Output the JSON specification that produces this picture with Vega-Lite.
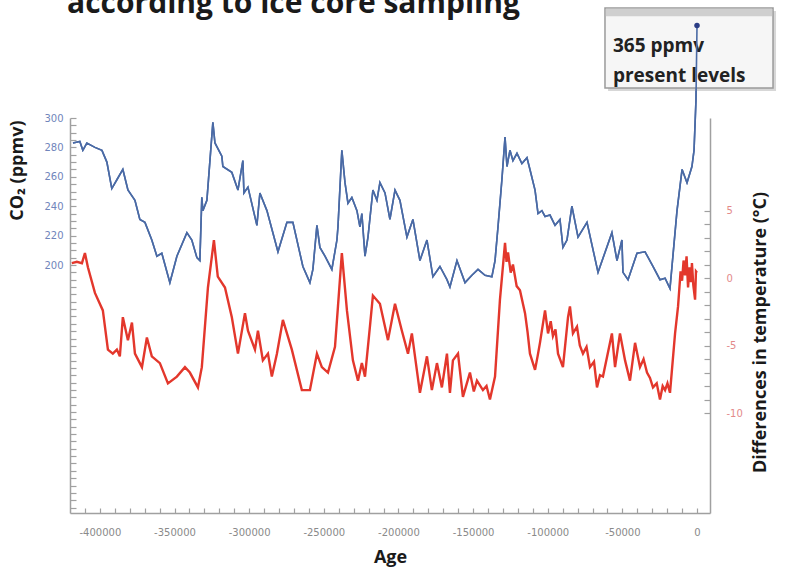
{
  "$schema": "https://vega.github.io/schema/vega-lite/v6.json",
  "description": "according to ice core sampling",
  "width": 640,
  "height": 395,
  "autosize": {"type": "none"},
  "padding": {"left": 70, "top": 118, "right": 76, "bottom": 54},
  "background": "white",
  "config": {"font": "Open Sans", "view": {"stroke": null}},
  "datasets": {
    "co2": [
      {"age": -418000, "co2": 283}, {"age": -413400, "co2": 284}, {"age": -411400, "co2": 278}, {"age": -408700, "co2": 283},
      {"age": -403300, "co2": 280}, {"age": -398600, "co2": 278}, {"age": -395300, "co2": 270}, {"age": -392000, "co2": 252},
      {"age": -388600, "co2": 258}, {"age": -384600, "co2": 265}, {"age": -381200, "co2": 251}, {"age": -376500, "co2": 244},
      {"age": -373200, "co2": 231}, {"age": -369800, "co2": 229}, {"age": -365200, "co2": 217}, {"age": -361800, "co2": 206},
      {"age": -358500, "co2": 208}, {"age": -353100, "co2": 188}, {"age": -348400, "co2": 206}, {"age": -341700, "co2": 222},
      {"age": -338400, "co2": 217}, {"age": -335000, "co2": 205}, {"age": -333000, "co2": 203}, {"age": -331700, "co2": 246},
      {"age": -331000, "co2": 237}, {"age": -328300, "co2": 244}, {"age": -324300, "co2": 297}, {"age": -322900, "co2": 283},
      {"age": -318300, "co2": 274}, {"age": -317600, "co2": 267}, {"age": -311600, "co2": 263}, {"age": -307500, "co2": 251},
      {"age": -304200, "co2": 271}, {"age": -303500, "co2": 249}, {"age": -300800, "co2": 253}, {"age": -294800, "co2": 227},
      {"age": -292800, "co2": 249}, {"age": -288100, "co2": 237}, {"age": -280700, "co2": 209}, {"age": -274700, "co2": 229},
      {"age": -270700, "co2": 229}, {"age": -264000, "co2": 199}, {"age": -259300, "co2": 188}, {"age": -257300, "co2": 197},
      {"age": -254600, "co2": 227}, {"age": -252600, "co2": 212}, {"age": -249200, "co2": 206}, {"age": -244600, "co2": 197},
      {"age": -241200, "co2": 217}, {"age": -240500, "co2": 226}, {"age": -237900, "co2": 278}, {"age": -235800, "co2": 256},
      {"age": -233800, "co2": 242}, {"age": -231200, "co2": 246}, {"age": -227800, "co2": 237}, {"age": -225800, "co2": 226},
      {"age": -224500, "co2": 235}, {"age": -222400, "co2": 206}, {"age": -220400, "co2": 219}, {"age": -217100, "co2": 251},
      {"age": -214400, "co2": 244}, {"age": -212400, "co2": 256}, {"age": -209000, "co2": 249}, {"age": -205700, "co2": 231},
      {"age": -202300, "co2": 251}, {"age": -199000, "co2": 244}, {"age": -194300, "co2": 219}, {"age": -190300, "co2": 231},
      {"age": -185600, "co2": 203}, {"age": -180900, "co2": 217}, {"age": -176900, "co2": 192}, {"age": -172200, "co2": 199},
      {"age": -167500, "co2": 190}, {"age": -165500, "co2": 185}, {"age": -160800, "co2": 203}, {"age": -155400, "co2": 188},
      {"age": -150800, "co2": 193}, {"age": -146700, "co2": 197}, {"age": -142000, "co2": 193}, {"age": -137400, "co2": 192},
      {"age": -135300, "co2": 203}, {"age": -133300, "co2": 226}, {"age": -130700, "co2": 258}, {"age": -128600, "co2": 287},
      {"age": -127300, "co2": 267}, {"age": -125300, "co2": 278}, {"age": -123300, "co2": 271}, {"age": -120600, "co2": 276},
      {"age": -117300, "co2": 269}, {"age": -113900, "co2": 273}, {"age": -111900, "co2": 265}, {"age": -108500, "co2": 251},
      {"age": -106500, "co2": 235}, {"age": -103900, "co2": 237}, {"age": -101800, "co2": 233}, {"age": -98500, "co2": 234},
      {"age": -95100, "co2": 227}, {"age": -91800, "co2": 231}, {"age": -89800, "co2": 212}, {"age": -87100, "co2": 217},
      {"age": -83800, "co2": 240}, {"age": -79700, "co2": 219}, {"age": -73700, "co2": 229}, {"age": -66300, "co2": 195},
      {"age": -57000, "co2": 222}, {"age": -53600, "co2": 203}, {"age": -50300, "co2": 217}, {"age": -49600, "co2": 195},
      {"age": -46200, "co2": 190}, {"age": -40200, "co2": 208}, {"age": -34800, "co2": 209}, {"age": -29500, "co2": 199},
      {"age": -24800, "co2": 190}, {"age": -21400, "co2": 191}, {"age": -18100, "co2": 184}, {"age": -13400, "co2": 237},
      {"age": -10000, "co2": 265}, {"age": -6700, "co2": 256}, {"age": -3400, "co2": 267}, {"age": -2000, "co2": 278},
      {"age": -700, "co2": 312}, {"age": 0, "co2": 363}
    ],
    "temp": [
      {"age": -418800, "temp": 1.1}, {"age": -415400, "temp": 1.2}, {"age": -412000, "temp": 1.1}, {"age": -410000, "temp": 1.85},
      {"age": -408000, "temp": 0.8}, {"age": -403300, "temp": -1.1}, {"age": -398000, "temp": -2.4}, {"age": -394600, "temp": -5.3},
      {"age": -391300, "temp": -5.6}, {"age": -388600, "temp": -5.3}, {"age": -386600, "temp": -5.8}, {"age": -384600, "temp": -2.9},
      {"age": -381200, "temp": -4.6}, {"age": -378500, "temp": -3.3}, {"age": -376500, "temp": -5.6}, {"age": -371800, "temp": -6.6},
      {"age": -368500, "temp": -4.4}, {"age": -365200, "temp": -5.8}, {"age": -359800, "temp": -6.3}, {"age": -354400, "temp": -7.8},
      {"age": -348400, "temp": -7.3}, {"age": -343000, "temp": -6.6}, {"age": -339700, "temp": -7.0}, {"age": -334300, "temp": -8.1},
      {"age": -331700, "temp": -6.6}, {"age": -327600, "temp": -0.7}, {"age": -323600, "temp": 2.8}, {"age": -321000, "temp": 0.1},
      {"age": -316200, "temp": -0.7}, {"age": -311600, "temp": -2.9}, {"age": -307500, "temp": -5.6}, {"age": -302800, "temp": -2.6},
      {"age": -300800, "temp": -3.9}, {"age": -296100, "temp": -5.3}, {"age": -294100, "temp": -3.9}, {"age": -290800, "temp": -6.1},
      {"age": -287400, "temp": -5.6}, {"age": -284800, "temp": -7.3}, {"age": -281400, "temp": -5.6}, {"age": -277400, "temp": -3.1},
      {"age": -271400, "temp": -5.3}, {"age": -264700, "temp": -8.3}, {"age": -259300, "temp": -8.3}, {"age": -254600, "temp": -5.6},
      {"age": -251300, "temp": -6.6}, {"age": -247200, "temp": -7.0}, {"age": -242500, "temp": -5.1}, {"age": -240500, "temp": -2.1},
      {"age": -237900, "temp": 1.85}, {"age": -234500, "temp": -2.4}, {"age": -230500, "temp": -6.1}, {"age": -227100, "temp": -7.6},
      {"age": -224500, "temp": -6.3}, {"age": -222400, "temp": -7.3}, {"age": -219100, "temp": -3.6}, {"age": -217100, "temp": -1.3},
      {"age": -212400, "temp": -1.9}, {"age": -207000, "temp": -4.6}, {"age": -202300, "temp": -1.9}, {"age": -197700, "temp": -3.9},
      {"age": -193600, "temp": -5.6}, {"age": -191000, "temp": -4.1}, {"age": -185600, "temp": -8.5}, {"age": -180900, "temp": -5.8},
      {"age": -177600, "temp": -8.3}, {"age": -174200, "temp": -6.3}, {"age": -170900, "temp": -8.1}, {"age": -167500, "temp": -5.6},
      {"age": -165500, "temp": -8.5}, {"age": -163500, "temp": -6.1}, {"age": -160100, "temp": -5.6}, {"age": -156800, "temp": -8.8},
      {"age": -152100, "temp": -7.0}, {"age": -149500, "temp": -8.4}, {"age": -147400, "temp": -7.6}, {"age": -143400, "temp": -8.3},
      {"age": -141000, "temp": -8.0}, {"age": -138700, "temp": -9.0}, {"age": -135300, "temp": -7.3}, {"age": -132000, "temp": -1.6},
      {"age": -128600, "temp": 2.6}, {"age": -127600, "temp": 1.2}, {"age": -126600, "temp": 1.9}, {"age": -124800, "temp": 0.4},
      {"age": -123300, "temp": 1.0}, {"age": -120800, "temp": -0.6}, {"age": -118600, "temp": -0.9}, {"age": -115200, "temp": -2.6},
      {"age": -113500, "temp": -4.0}, {"age": -111900, "temp": -5.6}, {"age": -108500, "temp": -6.8}, {"age": -106800, "temp": -5.8},
      {"age": -105200, "temp": -4.8}, {"age": -101800, "temp": -2.4}, {"age": -99800, "temp": -4.1}, {"age": -98000, "temp": -3.2},
      {"age": -96500, "temp": -4.3}, {"age": -94800, "temp": -3.8}, {"age": -93100, "temp": -5.6}, {"age": -89800, "temp": -6.6},
      {"age": -86400, "temp": -2.9}, {"age": -85100, "temp": -2.1}, {"age": -83100, "temp": -4.1}, {"age": -80400, "temp": -3.6},
      {"age": -78500, "temp": -5.0}, {"age": -76400, "temp": -5.6}, {"age": -74000, "temp": -5.1}, {"age": -71700, "temp": -6.6},
      {"age": -69000, "temp": -6.2}, {"age": -67000, "temp": -8.1}, {"age": -65000, "temp": -7.2}, {"age": -63000, "temp": -7.3},
      {"age": -57000, "temp": -4.1}, {"age": -54900, "temp": -6.6}, {"age": -51600, "temp": -4.1}, {"age": -48200, "temp": -6.1},
      {"age": -44900, "temp": -7.6}, {"age": -41500, "temp": -4.8}, {"age": -38200, "temp": -6.6}, {"age": -35800, "temp": -6.0},
      {"age": -33500, "temp": -7.0}, {"age": -31500, "temp": -7.4}, {"age": -29500, "temp": -8.1}, {"age": -27000, "temp": -7.8},
      {"age": -24800, "temp": -9.0}, {"age": -23000, "temp": -8.0}, {"age": -21400, "temp": -8.3}, {"age": -19800, "temp": -7.8},
      {"age": -18100, "temp": -8.5}, {"age": -14700, "temp": -4.1}, {"age": -12700, "temp": -2.1}, {"age": -11000, "temp": 0.5},
      {"age": -10000, "temp": -0.2}, {"age": -9000, "temp": 1.3}, {"age": -8000, "temp": 0.2}, {"age": -7000, "temp": 1.6},
      {"age": -6000, "temp": -0.7}, {"age": -5000, "temp": 0.8}, {"age": -4000, "temp": -0.3}, {"age": -3400, "temp": 1.1},
      {"age": -2500, "temp": -0.5}, {"age": -1300, "temp": -1.6}, {"age": -700, "temp": 0.5}, {"age": 0, "temp": 0.4}
    ]
  },
  "layer": [
    {
      "data": {"name": "co2"},
      "mark": {"type": "line", "color": "#4a6aa5", "strokeWidth": 1.6, "clip": false},
      "encoding": {
        "x": {
          "field": "age", "type": "quantitative",
          "scale": {"domain": [-420000, 8700], "nice": false, "zero": false},
          "axis": {
            "title": "Age",
            "values": [-410000, -400000, -390000, -380000, -370000, -360000, -350000, -340000, -330000, -320000, -310000, -300000, -290000, -280000, -270000, -260000, -250000, -240000, -230000, -220000, -210000, -200000, -190000, -180000, -170000, -160000, -150000, -140000, -130000, -120000, -110000, -100000, -90000, -80000, -70000, -60000, -50000, -40000, -30000, -20000, -10000, 0],
            "labelExpr": "datum.value % 50000 === 0 ? '' + datum.value : ''",
            "labelFont": "DejaVu Sans",
            "labelFontSize": 10,
            "labelColor": "#8a8a8a",
            "labelPadding": 19,
            "domainColor": "#a0a0a0",
            "domainWidth": 1.5,
            "ticks": true,
            "tickColor": "#a0a0a0",
            "tickWidth": 1.2,
            "tickSize": -5,
            "grid": false,
            "titleFont": "Open Sans",
            "titleFontWeight": "bold",
            "titleFontSize": 18,
            "titleColor": "#1a1a1a",
            "titleY": 49,
            "titleBaseline": "alphabetic"
          }
        },
        "y": {
          "field": "co2", "type": "quantitative",
          "scale": {"domain": [31.3, 300], "nice": false, "zero": false},
          "axis": {
            "title": "CO₂ (ppmv)",
            "values": [35, 40, 45, 50, 55, 60, 65, 70, 75, 80, 85, 90, 95, 100, 105, 110, 115, 120, 125, 130, 135, 140, 145, 150, 155, 160, 165, 170, 175, 180, 185, 190, 195, 200, 205, 210, 215, 220, 225, 230, 235, 240, 245, 250, 255, 260, 265, 270, 275, 280, 285, 290, 295, 300],
            "labelExpr": "datum.value >= 200 && datum.value % 20 === 0 ? datum.label : ''",
            "labelFont": "DejaVu Sans",
            "labelFontSize": 10,
            "labelColor": "#7085bb",
            "labelPadding": 13,
            "domainColor": "#a0a0a0",
            "domainWidth": 1.5,
            "ticks": true,
            "tickColor": "#a0a0a0",
            "tickWidth": 1.2,
            "tickSize": -6,
            "grid": false,
            "titleFont": "Open Sans",
            "titleFontWeight": "bold",
            "titleFontSize": 18,
            "titleColor": "#1a1a1a",
            "titleAngle": -90,
            "titleAlign": "right",
            "titleBaseline": "middle",
            "titleX": -53,
            "titleY": 2
          }
        }
      }
    },
    {
      "data": {"name": "co2"},
      "transform": [{"filter": "datum.age === 0"}],
      "mark": {"type": "text", "text": "according to ice core sampling", "align": "left", "baseline": "alphabetic", "font": "Open Sans", "fontWeight": "bold", "fontSize": 30, "color": "#1a1a1a", "clip": false},
      "encoding": {
        "x": {"datum": -422000, "type": "quantitative", "scale": {"domain": [-420000, 8700], "nice": false, "zero": false}, "axis": null},
        "y": {"datum": 371.4, "type": "quantitative", "scale": {"domain": [31.3, 300], "nice": false, "zero": false}, "axis": null}
      }
    },
    {
      "data": {"name": "co2"},
      "transform": [{"filter": "datum.age === 0"}],
      "mark": {"type": "rect", "color": "#bdbdbd", "opacity": 0.6, "clip": false},
      "encoding": {
        "x": {"datum": -59600, "type": "quantitative", "scale": {"domain": [-420000, 8700], "nice": false, "zero": false}, "axis": null},
        "x2": {"datum": 52930},
        "y": {"datum": 372.8, "type": "quantitative", "scale": {"domain": [31.3, 300], "nice": false, "zero": false}, "axis": null},
        "y2": {"datum": 318.4}
      }
    },
    {
      "data": {"name": "co2"},
      "transform": [{"filter": "datum.age === 0"}],
      "mark": {"type": "rect", "color": "#f6f6f6", "stroke": "#9a9a9a", "strokeWidth": 1.5, "clip": false},
      "encoding": {
        "x": {"datum": -61640, "type": "quantitative", "scale": {"domain": [-420000, 8700], "nice": false, "zero": false}, "axis": null},
        "x2": {"datum": 50920},
        "y": {"datum": 374.8, "type": "quantitative", "scale": {"domain": [31.3, 300], "nice": false, "zero": false}, "axis": null},
        "y2": {"datum": 320.4}
      }
    },
    {
      "data": {"name": "co2"},
      "transform": [{"filter": "datum.age === 0"}],
      "mark": {"type": "rect", "color": "#cfcfcf", "clip": false},
      "encoding": {
        "x": {"datum": -61000, "type": "quantitative", "scale": {"domain": [-420000, 8700], "nice": false, "zero": false}, "axis": null},
        "x2": {"datum": 50300},
        "y": {"datum": 374.3, "type": "quantitative", "scale": {"domain": [31.3, 300], "nice": false, "zero": false}, "axis": null},
        "y2": {"datum": 369.2}
      }
    },
    {
      "data": {"name": "co2"},
      "transform": [{"filter": "datum.age === 0"}],
      "mark": {"type": "text", "text": "365 ppmv", "align": "left", "baseline": "alphabetic", "font": "Open Sans", "fontWeight": "bold", "fontSize": 19, "color": "#222222", "clip": false},
      "encoding": {
        "x": {"datum": -56300, "type": "quantitative", "scale": {"domain": [-420000, 8700], "nice": false, "zero": false}, "axis": null},
        "y": {"datum": 344.9, "type": "quantitative", "scale": {"domain": [31.3, 300], "nice": false, "zero": false}, "axis": null}
      }
    },
    {
      "data": {"name": "co2"},
      "transform": [{"filter": "datum.age === 0"}],
      "mark": {"type": "text", "text": "present levels", "align": "left", "baseline": "alphabetic", "font": "Open Sans", "fontWeight": "bold", "fontSize": 19, "color": "#222222", "clip": false},
      "encoding": {
        "x": {"datum": -56300, "type": "quantitative", "scale": {"domain": [-420000, 8700], "nice": false, "zero": false}, "axis": null},
        "y": {"datum": 324.5, "type": "quantitative", "scale": {"domain": [31.3, 300], "nice": false, "zero": false}, "axis": null}
      }
    },
    {
      "data": {"name": "co2"},
      "mark": {"type": "line", "color": "#4a6aa5", "strokeWidth": 1.6, "clip": false},
      "encoding": {
        "x": {"field": "age", "type": "quantitative", "scale": {"domain": [-420000, 8700], "nice": false, "zero": false}, "axis": null},
        "y": {"field": "co2", "type": "quantitative", "scale": {"domain": [31.3, 300], "nice": false, "zero": false}, "axis": null}
      }
    },
    {
      "data": {"name": "co2"},
      "transform": [{"filter": "datum.age === 0"}],
      "mark": {"type": "point", "filled": true, "size": 30, "color": "#2b3d85", "opacity": 1, "clip": false},
      "encoding": {
        "x": {"field": "age", "type": "quantitative", "scale": {"domain": [-420000, 8700], "nice": false, "zero": false}, "axis": null},
        "y": {"field": "co2", "type": "quantitative", "scale": {"domain": [31.3, 300], "nice": false, "zero": false}, "axis": null}
      }
    },
    {
      "data": {"name": "temp"},
      "mark": {"type": "line", "color": "#e3372c", "strokeWidth": 2.4, "clip": false},
      "encoding": {
        "x": {"field": "age", "type": "quantitative", "scale": {"domain": [-420000, 8700], "nice": false, "zero": false}, "axis": null},
        "y": {
          "field": "temp", "type": "quantitative",
          "scale": {"domain": [-17.4, 11.85], "nice": false, "zero": false},
          "axis": {
            "orient": "right",
            "title": "Differences in temperature (°C)",
            "values": [-10, -9, -8, -7, -6, -5, -4, -3, -2, -1, 0, 1, 2, 3, 4, 5],
            "labelExpr": "datum.value % 5 === 0 ? '' + datum.value : ''",
            "labelFont": "DejaVu Sans",
            "labelFontSize": 10,
            "labelColor": "#e38a8a",
            "labelPadding": 22,
            "domainColor": "#a0a0a0",
            "domainWidth": 1.5,
            "ticks": true,
            "tickColor": "#a0a0a0",
            "tickWidth": 1.2,
            "tickSize": -6,
            "grid": false,
            "titleFont": "Open Sans",
            "titleFontWeight": "bold",
            "titleFontSize": 18,
            "titleColor": "#1a1a1a",
            "titleAngle": -90,
            "titleAlign": "center",
            "titleBaseline": "middle",
            "titleX": 50,
            "titleY": 214
          }
        }
      }
    }
  ],
  "resolve": {"scale": {"x": "independent", "y": "independent"}}
}
